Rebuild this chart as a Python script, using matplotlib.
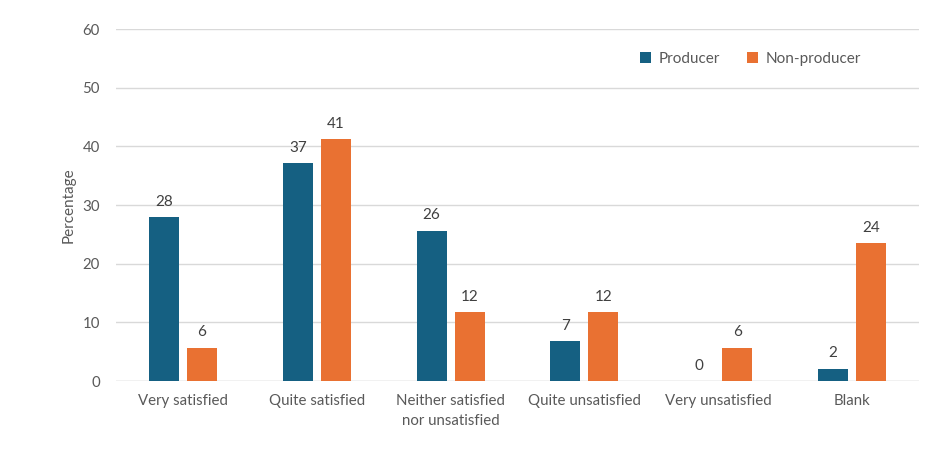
import matplotlib
matplotlib.use("Agg")
import matplotlib.pyplot as plt
import numpy as np

categories = ["Very satisfied", "Quite satisfied", "Neither satisfied\nnor unsatisfied",
              "Quite unsatisfied", "Very unsatisfied", "Blank"]
producer = [27.9, 37.1, 25.6, 6.8, 0.0, 2.1]
non_producer = [5.7, 41.2, 11.7, 11.7, 5.7, 23.5]
producer_labels = ["28", "37", "26", "7", "0", "2"]
non_producer_labels = ["6", "41", "12", "12", "6", "24"]
yticks = [0, 10, 20, 30, 40, 50, 60]

plt.rcParams['font.family'] = ['Lato', 'DejaVu Sans']
grey = "#595959"
c_prod = "#156082"
c_np = "#E97132"

fig = plt.figure(figsize=(9.48, 4.69), dpi=100)
ax = fig.add_axes([116/948, 1 - 381/469, 803/948, 352/469])

x = np.arange(len(categories))
off = 0.142
w = 0.224
b1 = ax.bar(x - off, producer, w, color=c_prod, label="Producer", zorder=3)
b2 = ax.bar(x + off, non_producer, w, color=c_np, label="Non-producer", zorder=3)

for rect, lab in zip(b1, producer_labels):
    ax.annotate(lab, (rect.get_x() + rect.get_width() / 2, rect.get_height()),
                xytext=(0, 6), textcoords="offset points", ha="center", va="bottom",
                fontsize=11, color="#404040")
for rect, lab in zip(b2, non_producer_labels):
    ax.annotate(lab, (rect.get_x() + rect.get_width() / 2, rect.get_height()),
                xytext=(0, 6), textcoords="offset points", ha="center", va="bottom",
                fontsize=11, color="#404040")

ax.set_xlim(-0.5, len(categories) - 0.5)
ax.set_ylim(0, 60)
ax.set_yticks(yticks)
ax.set_xticks(x)
ax.set_xticklabels(categories, fontsize=10.8, color=grey, linespacing=1.55)
ax.tick_params(axis='y', labelsize=10.8, labelcolor=grey, length=0, pad=11.5)
ax.tick_params(axis='x', length=0, pad=9)
ax.grid(axis='y', color="#D9D9D9", linewidth=1, zorder=0)
for s in ax.spines.values():
    s.set_visible(False)
ax.axhline(0, color="#D9D9D9", linewidth=1, zorder=2)
ax.set_ylabel("Percentage", fontsize=11, color=grey, labelpad=5)

leg = ax.legend(loc="upper right", bbox_to_anchor=(0.945, 0.975), ncol=2, frameon=False,
                fontsize=11, handlelength=0.7, handleheight=0.7, handletextpad=0.5,
                columnspacing=1.8)
for t in leg.get_texts():
    t.set_color(grey)

fig.savefig("out.png", dpi=100)
